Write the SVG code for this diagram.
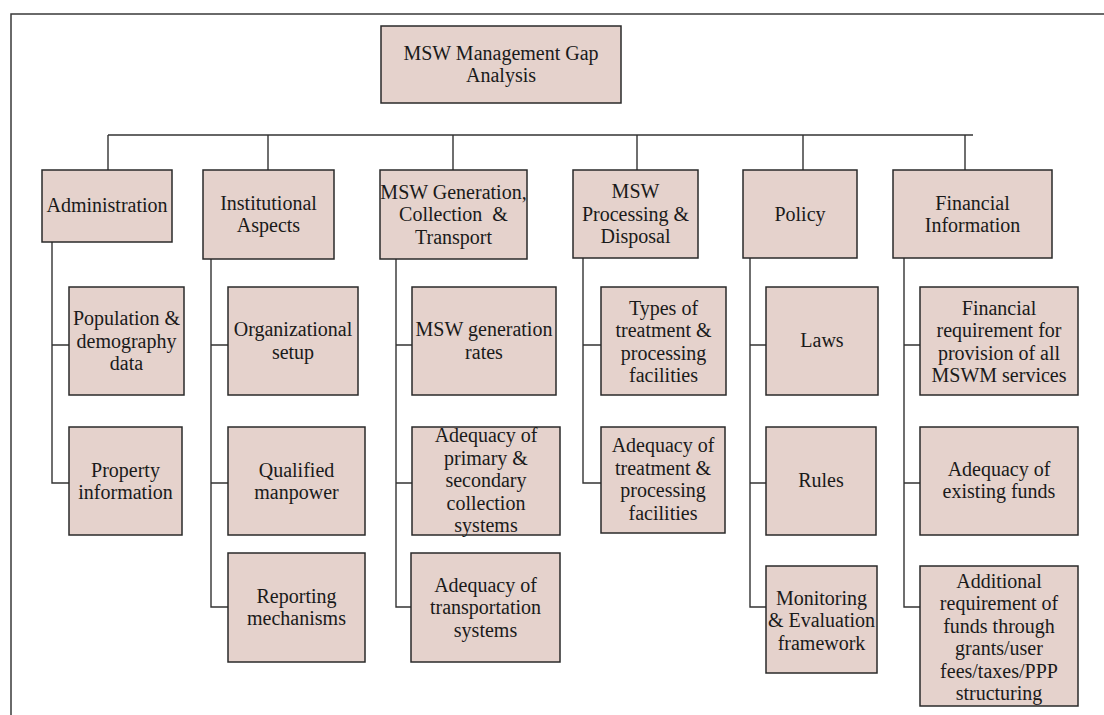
<svg xmlns="http://www.w3.org/2000/svg" width="1104" height="715" viewBox="0 0 1104 715">
  <style>
    .box { fill: #e5d2cc; stroke: #2a2a2a; stroke-width: 1.5; }
    .lbl { font-family: "Liberation Serif", "Times New Roman", serif; font-size: 20px; fill: #1a1a1a; text-anchor: middle; white-space: pre; }
    .wire { fill: none; stroke: #333; stroke-width: 1.4; }
    .bus { fill: none; stroke: #666; stroke-width: 2; }
    .frame { fill: none; stroke: #3a3a3a; stroke-width: 1.5; }
  </style>

  <rect x="0" y="0" width="1104" height="715" fill="#ffffff"/>
  <path class="frame" d="M11,716 V14 H1105"/>

  <!-- tree connectors -->
  <g id="connectors">
    <path class="bus" d="M108,135 H973"/>
    <path class="wire" d="M108,135 V170 M268,135 V170 M453,135 V170 M637,135 V170 M803,135 V170 M965,135 V170"/>
    <!-- Administration branch -->
    <path class="wire" d="M52,242 V483 H69 M52,345 H69"/>
    <!-- Institutional branch -->
    <path class="wire" d="M211,259 V607 H228 M211,345 H228 M211,483 H228"/>
    <!-- Generation branch -->
    <path class="wire" d="M396,259 V607 H411 M396,345 H412 M396,483 H412"/>
    <!-- Processing branch -->
    <path class="wire" d="M583,258 V483 H601 M583,345 H601"/>
    <!-- Policy branch -->
    <path class="wire" d="M750,258 V607 H766 M750,345 H766 M750,483 H766"/>
    <!-- Financial branch -->
    <path class="wire" d="M904,258 V607 H920 M904,345 H920 M904,483 H920"/>
  </g>

  <g id="root">
    <rect class="box" x="381" y="26" width="240" height="77"/>
    <text class="lbl" x="501" y="60">MSW Management Gap</text>
    <text class="lbl" x="501" y="82">Analysis</text>
  </g>

  <g id="administration">
    <rect class="box" x="42" y="170" width="130" height="72"/>
    <text class="lbl" x="107" y="212">Administration</text>
  </g>
  <g id="institutional">
    <rect class="box" x="203" y="170" width="131" height="89"/>
    <text class="lbl" x="268.5" y="209.5">Institutional</text>
    <text class="lbl" x="268.5" y="232">Aspects</text>
  </g>
  <g id="generation">
    <rect class="box" x="380" y="170" width="147" height="89"/>
    <text class="lbl" x="453.5" y="198.5">MSW Generation,</text>
    <text class="lbl" x="453.5" y="221">Collection  &amp;</text>
    <text class="lbl" x="453.5" y="243.5">Transport</text>
  </g>
  <g id="processing">
    <rect class="box" x="573" y="170" width="125" height="88"/>
    <text class="lbl" x="635.5" y="198">MSW</text>
    <text class="lbl" x="635.5" y="220.5">Processing &amp;</text>
    <text class="lbl" x="635.5" y="243">Disposal</text>
  </g>
  <g id="policy">
    <rect class="box" x="743" y="170" width="114" height="88"/>
    <text class="lbl" x="800" y="221">Policy</text>
  </g>
  <g id="financial">
    <rect class="box" x="893" y="170" width="159" height="88"/>
    <text class="lbl" x="972.5" y="209.5">Financial</text>
    <text class="lbl" x="972.5" y="232">Information</text>
  </g>

  <g id="population">
    <rect class="box" x="69" y="287" width="115" height="108"/>
    <text class="lbl" x="126.5" y="325">Population &amp;</text>
    <text class="lbl" x="126.5" y="347.5">demography</text>
    <text class="lbl" x="126.5" y="370">data</text>
  </g>
  <g id="property">
    <rect class="box" x="69" y="427" width="113" height="108"/>
    <text class="lbl" x="125.5" y="476.5">Property</text>
    <text class="lbl" x="125.5" y="499">information</text>
  </g>

  <g id="organizational">
    <rect class="box" x="228" y="287" width="130" height="108"/>
    <text class="lbl" x="293" y="336">Organizational</text>
    <text class="lbl" x="293" y="358.5">setup</text>
  </g>
  <g id="manpower">
    <rect class="box" x="228" y="427" width="137" height="108"/>
    <text class="lbl" x="296.5" y="476.5">Qualified</text>
    <text class="lbl" x="296.5" y="499">manpower</text>
  </g>
  <g id="reporting">
    <rect class="box" x="228" y="553" width="137" height="109"/>
    <text class="lbl" x="296.5" y="602.5">Reporting</text>
    <text class="lbl" x="296.5" y="625">mechanisms</text>
  </g>

  <g id="generation-rates">
    <rect class="box" x="412" y="287" width="144" height="108"/>
    <text class="lbl" x="484" y="336">MSW generation</text>
    <text class="lbl" x="484" y="358.5">rates</text>
  </g>
  <g id="collection">
    <rect class="box" x="412" y="427" width="148" height="108"/>
    <text class="lbl" x="486" y="442">Adequacy of</text>
    <text class="lbl" x="486" y="464.5">primary &amp;</text>
    <text class="lbl" x="486" y="487">secondary</text>
    <text class="lbl" x="486" y="509.5">collection</text>
    <text class="lbl" x="486" y="532">systems</text>
  </g>
  <g id="transportation">
    <rect class="box" x="411" y="553" width="149" height="109"/>
    <text class="lbl" x="485.5" y="591.5">Adequacy of</text>
    <text class="lbl" x="485.5" y="614">transportation</text>
    <text class="lbl" x="485.5" y="636.5">systems</text>
  </g>

  <g id="treatment-types">
    <rect class="box" x="601" y="287" width="125" height="108"/>
    <text class="lbl" x="663.5" y="314.5">Types of</text>
    <text class="lbl" x="663.5" y="337">treatment &amp;</text>
    <text class="lbl" x="663.5" y="359.5">processing</text>
    <text class="lbl" x="663.5" y="382">facilities</text>
  </g>
  <g id="treatment-adequacy">
    <rect class="box" x="601" y="427" width="124" height="106"/>
    <text class="lbl" x="663" y="452">Adequacy of</text>
    <text class="lbl" x="663" y="474.5">treatment &amp;</text>
    <text class="lbl" x="663" y="497">processing</text>
    <text class="lbl" x="663" y="519.5">facilities</text>
  </g>

  <g id="laws">
    <rect class="box" x="766" y="287" width="112" height="108"/>
    <text class="lbl" x="822" y="347">Laws</text>
  </g>
  <g id="rules">
    <rect class="box" x="766" y="427" width="110" height="108"/>
    <text class="lbl" x="821" y="487">Rules</text>
  </g>
  <g id="monitoring">
    <rect class="box" x="766" y="566" width="111" height="107"/>
    <text class="lbl" x="821.5" y="604.5">Monitoring</text>
    <text class="lbl" x="821.5" y="627">&amp; Evaluation</text>
    <text class="lbl" x="821.5" y="649.5">framework</text>
  </g>

  <g id="financial-requirement">
    <rect class="box" x="920" y="287" width="158" height="108"/>
    <text class="lbl" x="999" y="314.5">Financial</text>
    <text class="lbl" x="999" y="337">requirement for</text>
    <text class="lbl" x="999" y="359.5">provision of all</text>
    <text class="lbl" x="999" y="382">MSWM services</text>
  </g>
  <g id="existing-funds">
    <rect class="box" x="920" y="427" width="158" height="108"/>
    <text class="lbl" x="999" y="475.5">Adequacy of</text>
    <text class="lbl" x="999" y="498">existing funds</text>
  </g>
  <g id="additional-funds">
    <rect class="box" x="920" y="566" width="158" height="140"/>
    <text class="lbl" x="999" y="587.5">Additional</text>
    <text class="lbl" x="999" y="610">requirement of</text>
    <text class="lbl" x="999" y="632.5">funds through</text>
    <text class="lbl" x="999" y="655">grants/user</text>
    <text class="lbl" x="999" y="677.5">fees/taxes/PPP</text>
    <text class="lbl" x="999" y="700">structuring</text>
  </g>
</svg>
